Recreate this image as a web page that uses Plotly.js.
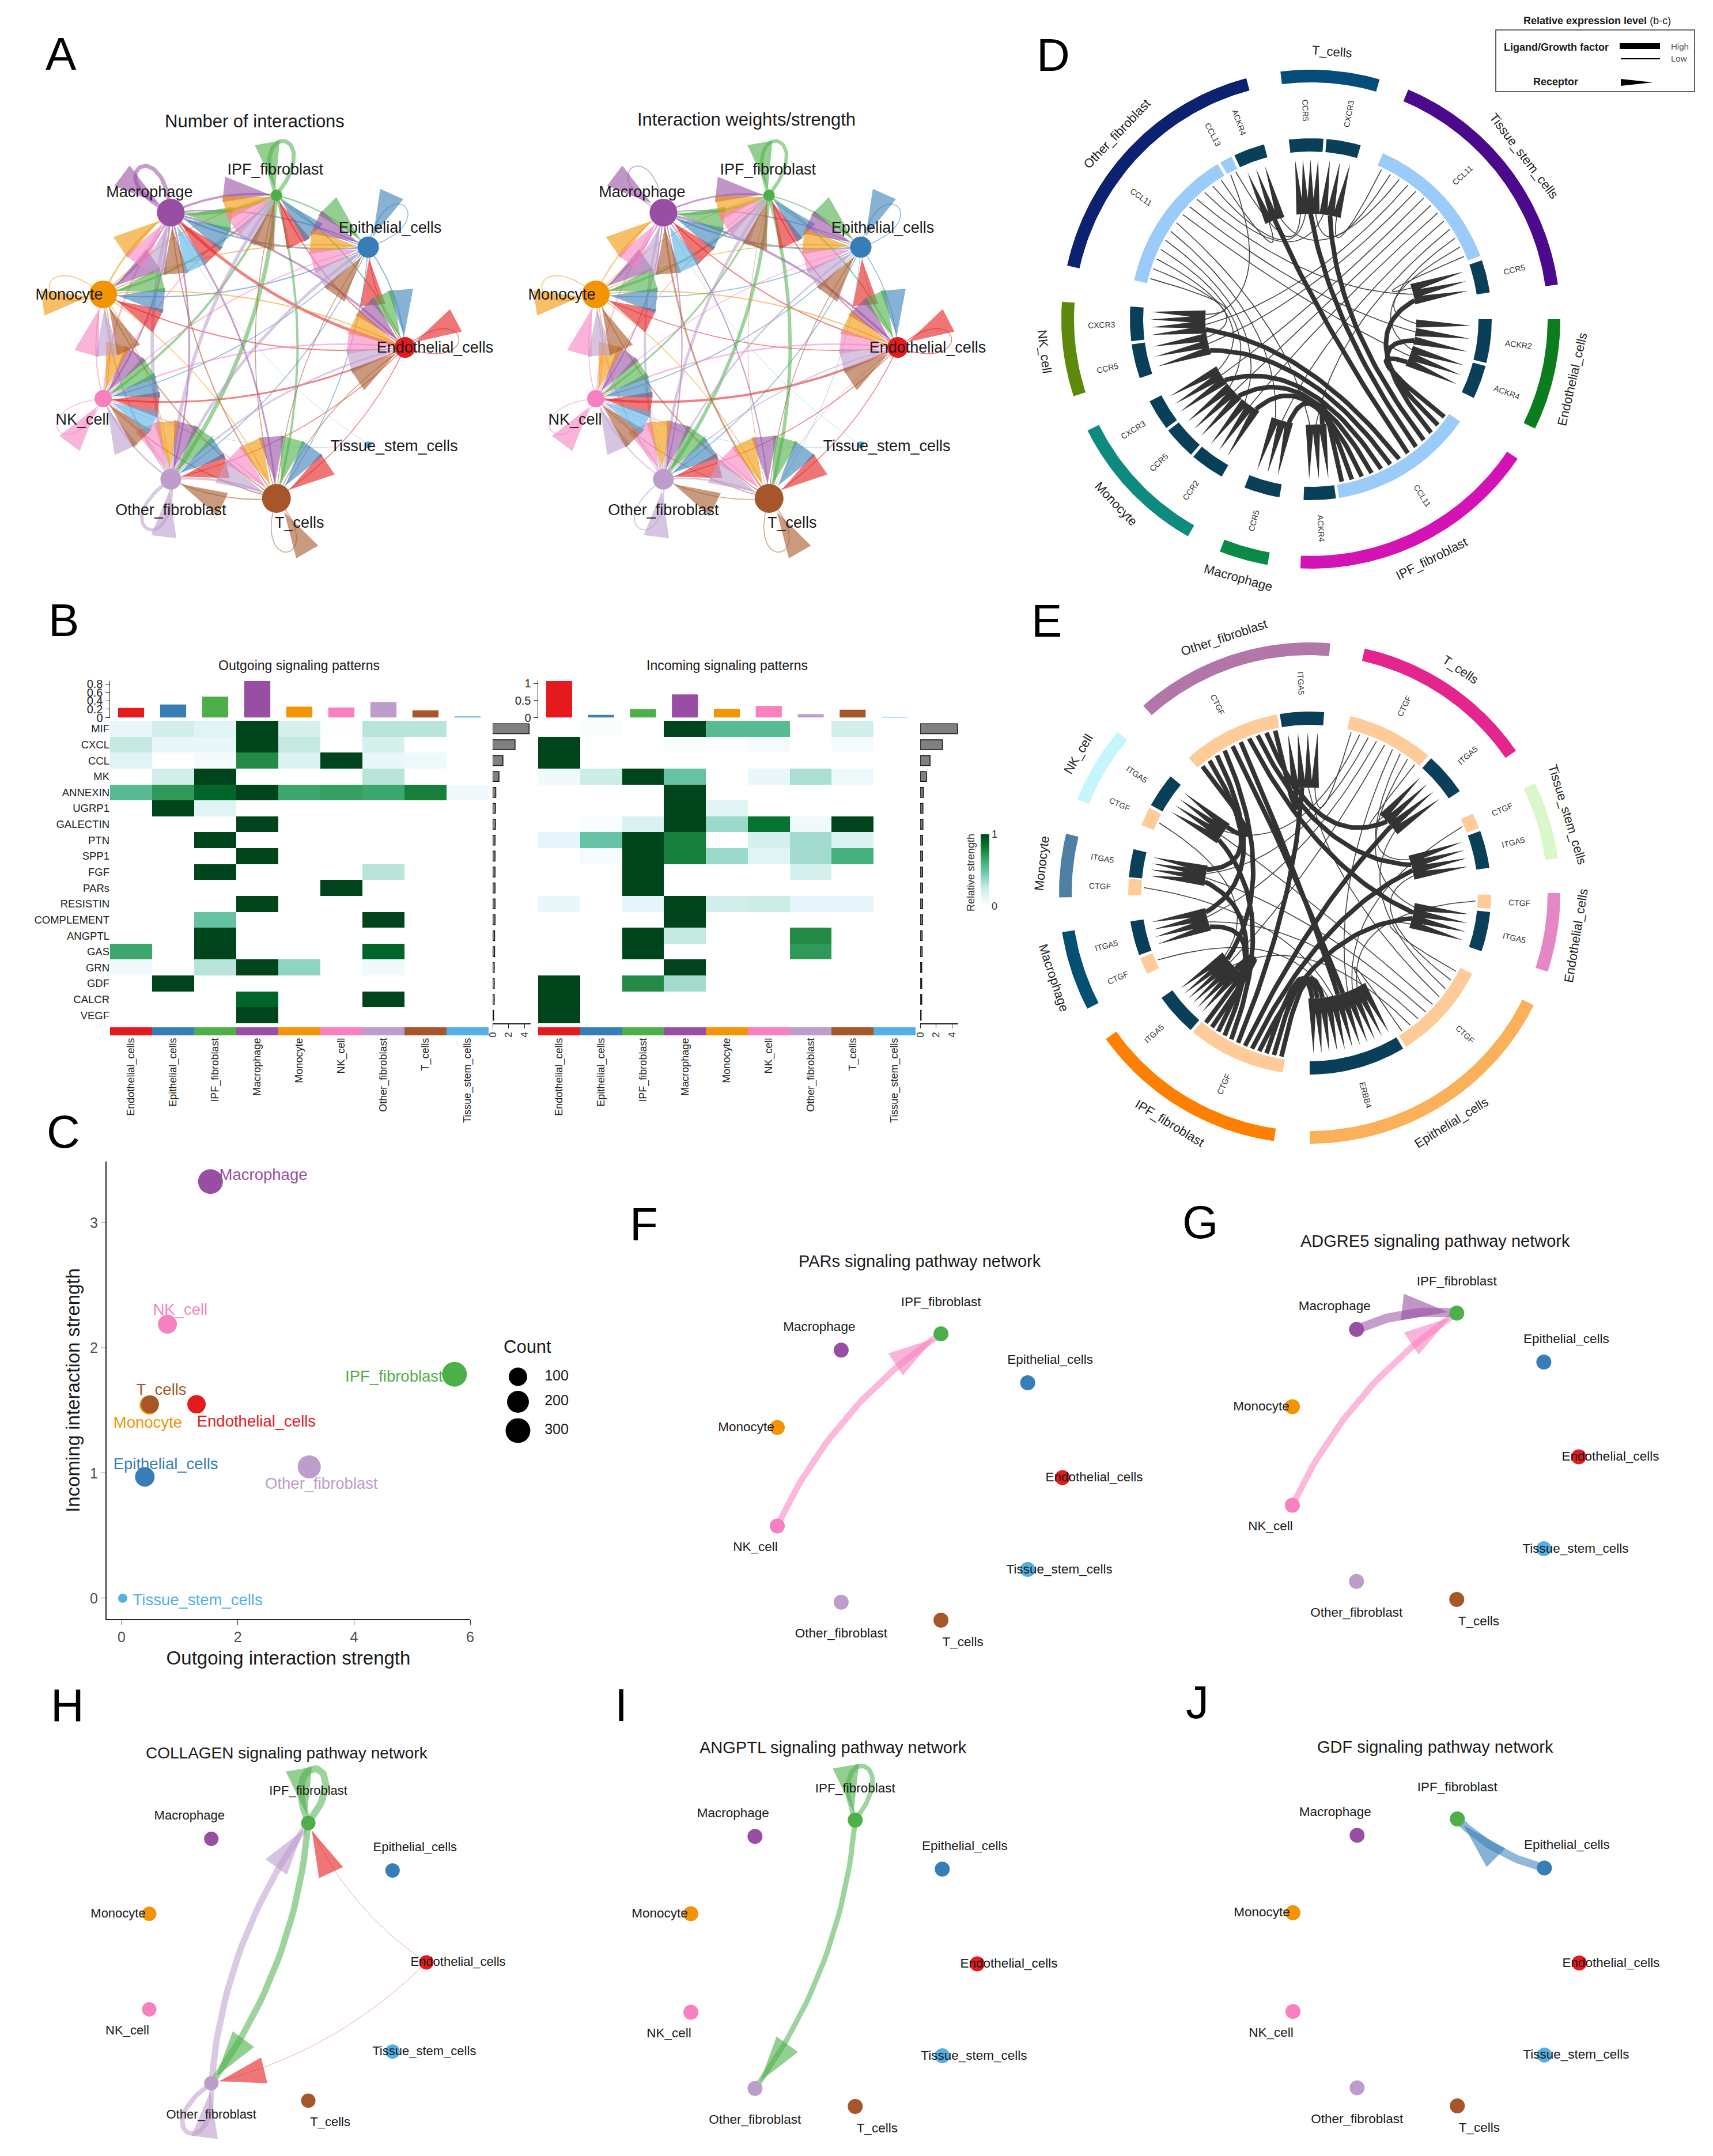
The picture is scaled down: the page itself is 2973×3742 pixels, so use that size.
<!DOCTYPE html>
<html><head><meta charset="utf-8">
<script src="https://cdn.plot.ly/plotly-3.0.1.min.js"></script>
<style>html,body{margin:0;padding:0;background:#fff}</style></head>
<body><div id="chart" style="width:2973px;height:3742px"></div>
<script>
const W=2973,H=3742,FONT='Liberation Sans, Arial, sans-serif';
const cellTypes=['Endothelial_cells','Epithelial_cells','IPF_fibroblast','Macrophage','Monocyte','NK_cell','Other_fibroblast','T_cells','Tissue_stem_cells'];
const cellColors=['#E41A1C','#377EB8','#4DAF4A','#984EA3','#F29403','#F781BF','#BC9DCC','#A65628','#54B0E4'];
const pathways=['MIF','CXCL','CCL','MK','ANNEXIN','UGRP1','GALECTIN','PTN','SPP1','FGF','PARs','RESISTIN','COMPLEMENT','ANGPTL','GAS','GRN','GDF','CALCR','VEGF'];
const outgoing=[
[.1,.22,.15,1,.2,.02,.3,.3,0],[.27,.1,.1,1,.27,0,.2,0,0],[.15,0,.05,.75,.17,1,.1,.08,0],[0,.22,1,0,0,0,.3,0,0],
[.55,.7,.9,1,.65,.68,.65,.8,.07],[0,1,.15,0,0,0,0,0,0],[0,0,0,1,0,0,0,0,0],[0,0,1,0,0,0,0,0,0],[0,0,0,1,0,0,0,0,0],
[0,0,1,0,0,0,.3,0,0],[0,0,0,0,0,1,0,0,0],[0,0,0,1,0,0,0,0,0],[0,0,.5,0,0,0,1,0,0],[0,0,1,0,0,0,0,0,0],
[.65,0,1,0,0,0,.9,0,0],[.07,0,.3,1,.4,0,.07,0,0],[0,1,0,0,0,0,0,0,0],[0,0,0,.9,0,0,1,0,0],[0,0,0,1,0,0,0,0,0]];
const incoming=[
[0,.03,0,1,.55,.55,0,.22,0],[1,0,0,.03,.02,.05,0,.05,0],[1,0,0,0,0,0,0,0,0],[.07,.25,1,.5,0,.1,.33,.08,0],
[0,0,0,1,0,0,0,0,0],[0,0,0,1,.15,0,0,0,0],[0,.04,.18,1,.37,.85,.07,1,0],[.12,.5,1,.8,0,.2,.35,.17,0],[0,.05,1,.8,.37,.15,.35,.6,0],
[0,0,1,0,0,0,.2,0,0],[0,0,1,0,0,0,0,0,0],[.1,0,.12,1,.22,.25,.12,.12,0],[0,0,0,1,0,0,0,0,0],[0,0,1,.27,0,0,.75,0,0],
[0,0,1,0,0,0,.7,0,0],[0,0,0,1,0,0,0,0,0],[1,0,.75,.35,0,0,0,0,0],[1,0,0,0,0,0,0,0,0],[1,0,0,0,0,0,0,0,0]];
const outgoingTop=[.23,.31,.5,.87,.26,.24,.37,.17,.03];
const incomingTop=[1.07,.08,.25,.68,.25,.34,.1,.23,.02];
const outgoingRight=[4.6,2.83,1.3,.8,.4,.35,.35,.3,.3,.3,.3,.3,.3,.25,.25,.2,.2,.2,.12];
const incomingRight=[4.7,2.8,1.25,.8,.4,.35,.35,.3,.3,.3,.3,.3,.3,.25,.25,.2,.2,.2,.12];
const outTicks=[0,.2,.4,.6,.8], inTicks=[0,.5,1];
const BuGn=[[0,'#FFFFFF'],[.125,'#E5F5F9'],[.25,'#CCECE6'],[.375,'#99D8C9'],[.5,'#66C2A4'],[.625,'#41AE76'],[.75,'#238B45'],[.875,'#006D2C'],[1,'#00441B']];
// scatter C
const outStrength=[1.29,.4,5.73,1.53,.475,.79,3.23,.49,.02];
const inStrength=[1.55,.97,1.79,3.33,1.545,2.19,1.05,1.55,0];
const dotSize=[32,34,43,43,33,33,40,31,16];
const labelX=[2.32,.76,4.69,2.44,.45,1.01,3.44,.685,1.31];
const labelY=[1.405,1.065,1.765,3.375,1.395,2.295,.905,1.655,-.022];
const countLabels=['100','200','300'], countSizes=[32,38,43], countY=[1.77,1.57,1.34];
// networks
const nodeX=[1,.878,.574,.224,0,0,.224,.574,.878];
const nodeY=[.502,.171,0,.057,.327,.671,.937,1,.823];
const loopDir=[-10,-48,-82,-125,190,145,115,78,35];
const nodeSizeA=[36,37,20,48,48,30,36,50,12];
const lblDxA=[52,38,-2,-37,-59,-36,0,40,45], lblDyA=[2,-32,-43,-34,2,38,55,44,4];
const lblDxF=[55,39,0,-38,-54,-38,0,38,55], lblDyF=[1,-39,-54,-39,1,38,56,39,1];
const weightCount=[
[1.5,1.5,2,5,2,3,1.5,1.5,0],[2,1.5,2,3,2,1.5,1.5,1.5,0],[2.5,2.5,7,5,4,4,7,4,0],[3.5,2.5,4,7,3,3,3,3,0],
[2,2,2,3,1.5,2,1.5,1.5,0],[2.5,2,2,3,2,1.5,2,2,0],[3,5,6,6,3,3,6,4,0],[1.5,1.5,1.5,2,2,2,2,1.5,0],[0,0,0,1,0,1,0,0,0]];
const weightStrength=[
[1.5,1,2,2,1.5,4,1.5,1.5,0],[1.5,1.5,1.5,3,1.5,1.5,1.5,1,0],[2.5,2,6,4,4,3,6,6,0],[4,2,3,1.5,2,2,2,2,0],
[2,1.5,1.5,2,1.5,1.5,1,1.5,0],[2.5,1.5,1.5,2,1.5,1.5,2,1.5,0],[2,3,5,4,2,2,2,3,0],[1,1.5,1,3,2,1.5,1.5,1.5,0],[0,0,0,1,0,1,0,0,0]];
const edgesF=[[5,2,11]];
const edgesG=[[5,2,11],[3,2,16]];
const edgesH=[[6,2,11],[2,6,11],[0,2,1],[0,6,1],[2,2,12],[6,6,8]];
const edgesI=[[2,6,9],[2,2,8]];
const edgesJ=[[1,2,14]];
// circos D
const dCells=['T_cells','Tissue_stem_cells','Endothelial_cells','IPF_fibroblast','Macrophage','Monocyte','NK_cell','Other_fibroblast'];
const dStart=[-7,23,90,124,190,209.5,252,282.4];
const dEnd=[16,82,116,182.4,201.4,243.5,274,345];
const dColors=['#054C7A','#4B0A8C','#0B7D1E','#D313B4','#0A8A47','#0E8A7E','#5E8A0C','#0C2170'];
const dGenes=['CCR5','CXCR3','CCL11','CCR5','ACKR2','ACKR4','CCL11','ACKR4','CCR5','CCR2','CCR5','CXCR3','CCR5','CXCR3','CCL11','CCL13','ACKR4'];
const dGeneStart=[-7,5,23.5,71,90,105,124.4,172,190,209.5,221.5,233,251,263,282.4,330,335];
const dGeneEnd=[4,16,69.5,81.5,104,115.8,171,182.3,201.5,220.5,232,243,262,274,329,334,345];
const dLigands=[14,2,6];     // Other, Tissue, IPF CCL11
const dThick=[0,0,1];
// circos E
const eCells=['T_cells','Tissue_stem_cells','Endothelial_cells','Epithelial_cells','IPF_fibroblast','Macrophage','Monocyte','NK_cell','Other_fibroblast'];
const eStart=[12.7,64,90,116.6,188.2,242.5,269,292,318.4];
const eEnd=[55.4,82,108.3,180,234.4,261,283.7,310,364.7];
const eColors=['#E5258E','#D9F7C9','#E587C5','#FBB05A','#FF7F00','#044F72','#4F7FA3','#C6F5FD','#B276A8'];
const eGenes=['CTGF','ITGA5','CTGF','ITGA5','CTGF','ITGA5','CTGF','ERBB4','CTGF','ITGA5','CTGF','ITGA5','CTGF','ITGA5','CTGF','ITGA5','CTGF','ITGA5'];
const eGeneStart=[12.9,42,64,70,90.5,96,116.4,149,188.5,221,243.5,250,269.3,275,292,299,318.2,350.5];
const eGeneEnd=[40.8,55.8,69,82,95,108.7,148,180,220,234.7,249,261,274.5,284,298,310,349.6,364.6];
const eLigands=[0,6,8,16];
const eThick=[0,0,1,1];
const eExtraLinks=[[2,7,0],[4,7,0],[10,7,0],[12,7,0],[14,9,0],[8,7,1],[8,7,1],[16,7,1],[8,9,1]];
const DARK='#0A3F5A', LIGHT='#9BCBF8', EPEACH='#FFCC99', LINK='#333333';

const traces=[],annotations=[],shapes=[];
const layout={width:W,height:H,margin:{l:0,r:0,t:0,b:0},paper_bgcolor:'#fff',plot_bgcolor:'rgba(0,0,0,0)',showlegend:false,font:{family:FONT,color:'#1a1a1a'},annotations,shapes};
let aid=1;
function addAxes(px0,px1,py0,py1,xr,yr,xo,yo){
  aid++;const a='x'+aid,b='y'+aid;
  layout['xaxis'+aid]=Object.assign({domain:[px0/W,px1/W],range:xr,anchor:b,visible:false,showgrid:false,zeroline:false,fixedrange:true},xo||{});
  layout['yaxis'+aid]=Object.assign({domain:[1-py1/H,1-py0/H],range:yr,anchor:a,visible:false,showgrid:false,zeroline:false,fixedrange:true},yo||{});
  return {x:a,y:b};
}
function ann(t,px,py,size,o){annotations.push(Object.assign({text:t,x:px/W,y:1-py/H,xref:'paper',yref:'paper',showarrow:false,xanchor:'center',yanchor:'middle',font:{size,family:FONT,color:'#1a1a1a'}},o||{}));}
function rgba(hex,a){const n=parseInt(hex.slice(1),16);return `rgba(${n>>16},${(n>>8)&255},${n&255},${a})`;}

// ---------- networks ----------
function network(c){
  const pad=.34,{x0,y0,w,h}=c;
  const pL=Math.max(0,x0-pad*w),pR=Math.min(W,x0+w+pad*w),pT=Math.max(0,y0-pad*h),pB=Math.min(H,y0+h+pad*h);
  const ax=addAxes(pL,pR,pT,pB,[(pL-x0)/w,(pR-x0)/w],[(pB-y0)/h,(pT-y0)/h]);
  const u=1/w,L=c.arrowLen*u,A=c.arrowHalf*u;
  const P=i=>[nodeX[i],nodeY[i]];
  const lines=[],tris=[];
  function tri(tip,dirx,diry,col){
    const tx=tip[0],ty=tip[1],bx=tx-dirx*L,by=ty-diry*L;
    tris.push({type:'scatter',mode:'lines',cliponaxis:false,hoverinfo:'skip',xaxis:ax.x,yaxis:ax.y,fill:'toself',fillcolor:rgba(col,.6),line:{width:0,color:rgba(col,0)},
      x:[tx,bx-diry*A,bx+diry*A,tx],y:[ty,by+dirx*A,by-dirx*A,ty]});
  }
  c.edges.forEach(([s,t,wd])=>{
    const col=cellColors[s],p0=P(s),p1=P(t),xs=[],ys=[];
    const rT=(c.sizes[t]/2+2)*u;
    if(s===t){
      const D=146*u,r=deg=>[Math.cos(deg*Math.PI/180),Math.sin(deg*Math.PI/180)];
      const a=loopDir[s],c1=r(a+30),c2=r(a-30),ta=r(a-18);
      const C1=[p0[0]+D*c1[0],p0[1]+D*c1[1]],C2=[p0[0]+D*c2[0],p0[1]+D*c2[1]];
      for(let i=0;i<=40;i++){const q=i/40,m=1-q;
        xs.push(m*m*m*p0[0]+3*m*m*q*C1[0]+3*m*q*q*C2[0]+q*q*q*p0[0]);
        ys.push(m*m*m*p0[1]+3*m*m*q*C1[1]+3*m*q*q*C2[1]+q*q*q*p0[1]);}
      tri([p0[0]+ta[0]*rT,p0[1]+ta[1]*rT],-ta[0],-ta[1],col);
    } else {
      const dx=p1[0]-p0[0],dy=p1[1]-p0[1];
      const C=[(p0[0]+p1[0])/2+.14*dy,(p0[1]+p1[1])/2-.14*dx];
      for(let i=0;i<=30;i++){const q=i/30,m=1-q;
        xs.push(m*m*p0[0]+2*m*q*C[0]+q*q*p1[0]);ys.push(m*m*p0[1]+2*m*q*C[1]+q*q*p1[1]);}
      if(t!==8){
        let tx=p1[0]-C[0],ty=p1[1]-C[1];const l=Math.hypot(tx,ty);tx/=l;ty/=l;
        tri([p1[0]-tx*rT,p1[1]-ty*rT],tx,ty,col);
      }
    }
    lines.push({type:'scatter',mode:'lines',cliponaxis:false,hoverinfo:'skip',xaxis:ax.x,yaxis:ax.y,x:xs,y:ys,line:{color:rgba(col,wd<=1?.4:.55),width:wd}});
  });
  traces.push(...lines,...tris);
  traces.push({type:'scatter',mode:'markers',cliponaxis:false,hoverinfo:'skip',xaxis:ax.x,yaxis:ax.y,x:nodeX,y:nodeY,marker:{size:c.sizes,color:cellColors,opacity:1,line:{width:0}}});
  traces.push({type:'scatter',mode:'text',cliponaxis:false,hoverinfo:'skip',xaxis:ax.x,yaxis:ax.y,
    x:nodeX.map((v,i)=>v+c.dx[i]*u),y:nodeY.map((v,i)=>v+c.dy[i]/h),text:cellTypes,textposition:'middle center',textfont:{size:c.font,family:FONT,color:'#1a1a1a'}});
}
function matrixEdges(m){const e=[];m.forEach((r,s)=>r.forEach((v,t)=>{if(v>0)e.push([s,t,v]);}));return e;}
const same=n=>cellTypes.map(()=>n);
network({x0:179,y0:339,w:524,h:526,edges:matrixEdges(weightCount),sizes:nodeSizeA,dx:lblDxA,dy:lblDyA,font:27,arrowLen:80,arrowHalf:22});
network({x0:1034,y0:339,w:524,h:526,edges:matrixEdges(weightStrength),sizes:nodeSizeA,dx:lblDxA,dy:lblDyA,font:27,arrowLen:80,arrowHalf:22});
network({x0:1349,y0:2315,w:495,h:497,edges:edgesF,sizes:same(26),dx:lblDxF,dy:lblDyF,font:22.5,arrowLen:80,arrowHalf:23});
network({x0:2243,y0:2279,w:497,h:497,edges:edgesG,sizes:same(26),dx:lblDxF,dy:lblDyF,font:22.5,arrowLen:80,arrowHalf:23});
network({x0:259,y0:3164,w:481,h:482,edges:edgesH,sizes:same(25),dx:lblDxF,dy:lblDyF,font:22,arrowLen:80,arrowHalf:23});
network({x0:1199,y0:3159,w:497,h:497,edges:edgesI,sizes:same(26),dx:lblDxF,dy:lblDyF,font:22.5,arrowLen:80,arrowHalf:23});
network({x0:2244,y0:3157,w:497,h:498,edges:edgesJ,sizes:same(26),dx:lblDxF,dy:lblDyF,font:22.5,arrowLen:80,arrowHalf:23});
[['Number of interactions',442,211,31],['Interaction weights/strength',1295,208,31],['PARs signaling pathway network',1596,2189,29],['ADGRE5 signaling pathway network',2491,2154,29],['COLLAGEN signaling pathway network',498,3042,28],['ANGPTL signaling pathway network',1446,3033,29],['GDF signaling pathway network',2491,3032,29]]
 .forEach(t=>ann(t[0],t[1],t[2],t[3]));

// ---------- heatmaps ----------
function heat(x0,x1,z,top,topTicks,topMax,right,rx0,withLabels,scale){
  const ax=addAxes(x0,x1,1251,1776,[-.5,8.5],[18.5,-.5],{},withLabels?{visible:true,showline:false,ticks:'',tickmode:'array',tickvals:pathways.map((_,i)=>i),ticktext:pathways,tickfont:{size:18.5,color:'#222'},ticklen:0}:{});
  const t={type:'heatmap',xaxis:ax.x,yaxis:ax.y,x:cellTypes.map((_,i)=>i),y:pathways.map((_,i)=>i),z,colorscale:BuGn,zmin:0,zmax:1,showscale:false,hoverinfo:'skip'};
  if(scale){t.showscale=true;t.colorbar={x:1702/W,xanchor:'left',xref:'paper',y:1-1573/H,yanchor:'bottom',yref:'paper',len:125,lenmode:'pixels',thickness:15,thicknessmode:'pixels',tickvals:[0,1],ticks:'',tickfont:{size:18,color:'#333'},outlinewidth:0,ypad:0,xpad:0};}
  traces.push(t);
  const at=addAxes(x0,x1,1182,1245.5,[-.5,8.5],[0,topMax],{},{visible:true,showline:true,linecolor:'#222',linewidth:1.5,ticks:'outside',ticklen:7,tickcolor:'#222',tickmode:'array',tickvals:topTicks,ticktext:topTicks.map(String),tickfont:{size:20,color:'#222'}});
  traces.push({type:'bar',xaxis:at.x,yaxis:at.y,x:cellTypes.map((_,i)=>i),y:top,marker:{color:cellColors,line:{width:0}},width:.62,hoverinfo:'skip'});
  const ar=addAxes(rx0,rx0+66,1251,1776,[0,4.8],[18.5,-.5],{visible:true,showline:true,linecolor:'#222',linewidth:1.5,ticks:'outside',ticklen:7,tickcolor:'#222',tickmode:'array',tickvals:[0,2,4],ticktext:['0','2','4'],tickangle:-90,tickfont:{size:17,color:'#222'}},{});
  traces.push({type:'bar',orientation:'h',xaxis:ar.x,yaxis:ar.y,y:pathways.map((_,i)=>i),x:right,marker:{color:'#808080',line:{color:'#111',width:1.5}},width:.62,hoverinfo:'skip'});
  const as=addAxes(x0,x1,1783,1797,[-.5,8.5],[-.5,.5],{visible:true,showline:false,ticks:'',ticklen:0,tickmode:'array',tickvals:cellTypes.map((_,i)=>i),ticktext:cellTypes,tickangle:-90,tickfont:{size:18,color:'#222'}},{});
  traces.push({type:'heatmap',xaxis:as.x,yaxis:as.y,x:cellTypes.map((_,i)=>i),y:[0],z:[cellTypes.map((_,i)=>i)],zmin:0,zmax:8,colorscale:cellColors.map((c,i)=>[i/8,c]),showscale:false,hoverinfo:'skip'});
}
heat(191,848,outgoing,outgoingTop,outTicks,.87,outgoingRight,855,true,false);
heat(934,1589,incoming,incomingTop,inTicks,1.07,incomingRight,1597,false,true);
ann('Outgoing signaling patterns',519,1155,23);
ann('Incoming signaling patterns',1262,1155,23);
ann('Relative strength',1685,1515,18,{textangle:-90,font:{size:18,family:FONT,color:'#333'}});

// ---------- scatter C ----------
const cAx=addAxes(185,816,2016,2810,[-.258,6],[-.166,3.49],
 {visible:true,showline:true,linecolor:'#222',linewidth:2,ticks:'outside',ticklen:8,tickcolor:'#333',tickvals:[0,2,4,6],tickmode:'array',tickfont:{size:25,color:'#4d4d4d'},title:{text:'Outgoing interaction strength',font:{size:33,color:'#1a1a1a'},standoff:12}},
 {visible:true,showline:true,linecolor:'#222',linewidth:2,ticks:'outside',ticklen:8,tickcolor:'#333',tickvals:[0,1,2,3],tickmode:'array',tickfont:{size:25,color:'#4d4d4d'},title:{text:'Incoming interaction strength',font:{size:33,color:'#1a1a1a'},standoff:8}});
traces.push({type:'scatter',mode:'text',cliponaxis:false,hoverinfo:'skip',xaxis:cAx.x,yaxis:cAx.y,x:labelX,y:labelY,text:cellTypes,textfont:{size:27.5,color:cellColors,family:FONT}});
traces.push({type:'scatter',mode:'markers',cliponaxis:false,hoverinfo:'skip',xaxis:cAx.x,yaxis:cAx.y,x:outStrength,y:inStrength,marker:{size:dotSize,color:cellColors,opacity:1,line:{width:0}}});
const legAx=addAxes(860,1050,2016,2810,[0,1],[-.166,3.49]);
traces.push({type:'scatter',mode:'markers',hoverinfo:'skip',xaxis:legAx.x,yaxis:legAx.y,x:countY.map(()=>.205),y:countY,marker:{size:countSizes,color:'#000',opacity:1,line:{width:0}}});
traces.push({type:'scatter',mode:'text',hoverinfo:'skip',xaxis:legAx.x,yaxis:legAx.y,x:countY.map(()=>.558),y:countY,text:countLabels,textfont:{size:25,color:'#1a1a1a',family:FONT}});
ann('Count',915,2337,31);

// ---------- circos ----------
const rad=d=>d*Math.PI/180;
const pol=(a,r)=>[r*Math.sin(rad(a)),r*Math.cos(rad(a))];
function circos(c){
  const ax=addAxes(c.cx-510,c.cx+510,c.cy-510,c.cy+510,[-510,510],[-510,510]);
  function arc(a0,a1,r0,r1,col){
    const xs=[],ys=[],n=Math.max(2,Math.ceil(a1-a0));
    for(let i=0;i<=n;i++){const p=pol(a0+(a1-a0)*i/n,r1);xs.push(p[0]);ys.push(p[1]);}
    for(let i=n;i>=0;i--){const p=pol(a0+(a1-a0)*i/n,r0);xs.push(p[0]);ys.push(p[1]);}
    xs.push(xs[0]);ys.push(ys[0]);
    traces.push({type:'scatter',mode:'lines',hoverinfo:'skip',cliponaxis:false,xaxis:ax.x,yaxis:ax.y,x:xs,y:ys,fill:'toself',fillcolor:col,line:{width:0,color:col}});
  }
  function lab(t,a,r,size,angle,col){annotations.push({text:t,x:pol(a,r)[0],y:pol(a,r)[1],xref:ax.x,yref:ax.y,showarrow:false,textangle:angle,xanchor:'center',yanchor:'middle',font:{size,family:FONT,color:col}});}
  c.cells.forEach((n,i)=>{
    arc(c.start[i],c.end[i],c.Ro-22,c.Ro,c.colors[i]);
    const m=(c.start[i]+c.end[i])/2,nm=((m%360)+360)%360;
    const rot=(nm<90||nm>270)?(nm>270?nm-360:nm):nm-180;
    lab(n,m,c.Ro+33,22,rot,'#222');
  });
  const isRec=i=>c.receptors.includes(i);
  c.genes.forEach((g,i)=>{
    arc(c.gStart[i],c.gEnd[i],c.Ri-23,c.Ri,isRec(i)?DARK:c.ligandColor);
    const m=(c.gStart[i]+c.gEnd[i])/2,nm=((m%360)+360)%360;
    lab(g,m,c.Ri+49,14,nm<180?nm-90:nm-270,'#333');
  });
  // links
  const links=[];
  c.receptors.forEach(r=>c.ligands.forEach((l,k)=>links.push({l,r,thick:c.thick[k]})));
  c.extra.forEach(e=>links.push({l:e[0],r:e[1],thick:e[2]}));
  const mid=i=>(c.gStart[i]+c.gEnd[i])/2;
  function assign(keyField,otherField,resField){
    [...new Set(links.map(k=>k[keyField]))].forEach(i=>{
      const sub=links.filter(k=>k[keyField]===i);
      sub.sort((p,q)=>((mid(q[otherField])-mid(i)+720)%360)-((mid(p[otherField])-mid(i)+720)%360));
      const a0=c.gStart[i],a1=c.gEnd[i];
      sub.forEach((k,j)=>{k[resField]=a0+(a1-a0)*(j+.5)/sub.length;});
    });
  }
  assign('l','r','aL');assign('r','l','aR');
  const thinX=[],thinY=[],thickX=[],thickY=[],spX=[],spY=[];
  links.forEach(k=>{
    const P0=pol(k.aL,c.Ri-27),P1=pol(k.aR,c.Rh);
    const C=[(P0[0]+P1[0])/2*.35,(P0[1]+P1[1])/2*.35];
    const X=k.thick?thickX:thinX,Y=k.thick?thickY:thinY;
    for(let i=0;i<=36;i++){const q=i/36,m=1-q;X.push(m*m*P0[0]+2*m*q*C[0]+q*q*P1[0]);Y.push(m*m*P0[1]+2*m*q*C[1]+q*q*P1[1]);}
    X.push(null);Y.push(null);
    const tip=pol(k.aR,c.Ri-36),px=Math.cos(rad(k.aR)),py=-Math.sin(rad(k.aR)),hw=7;
    spX.push(tip[0],P1[0]+px*hw,P1[0]-px*hw,tip[0],null);
    spY.push(tip[1],P1[1]+py*hw,P1[1]-py*hw,tip[1],null);
  });
  const base={type:'scatter',mode:'lines',hoverinfo:'skip',cliponaxis:false,xaxis:ax.x,yaxis:ax.y};
  traces.push(Object.assign({},base,{x:thinX,y:thinY,line:{color:'#444',width:1.6}}));
  traces.push(Object.assign({},base,{x:spX,y:spY,fill:'toself',fillcolor:LINK,line:{width:0,color:LINK}}));
  traces.push(Object.assign({},base,{x:thickX,y:thickY,line:{color:LINK,width:8}}));
}
circos({cx:2275,cy:554,Ro:433,Ri:314,Rh:183,cells:dCells,start:dStart,end:dEnd,colors:dColors,genes:dGenes,gStart:dGeneStart,gEnd:dGeneEnd,
  receptors:[0,1,3,4,5,7,8,9,10,11,12,13,16],ligands:dLigands,thick:dThick,ligandColor:LIGHT,extra:[[15,0,0],[15,13,0]]});
circos({cx:2273,cy:1550,Ro:435,Ri:315,Rh:183,cells:eCells,start:eStart,end:eEnd,colors:eColors,genes:eGenes,gStart:eGeneStart,gEnd:eGeneEnd,
  receptors:[1,3,5,7,9,11,13,15,17],ligands:eLigands,thick:eThick,ligandColor:EPEACH,extra:eExtraLinks});

// legend of D
const sx=x=>x/W, sy=y=>1-y/H;
shapes.push({type:'rect',xref:'paper',yref:'paper',x0:sx(2596),x1:sx(2941),y0:sy(52),y1:sy(159),line:{color:'#333',width:1.5}});
shapes.push({type:'rect',xref:'paper',yref:'paper',x0:sx(2811),x1:sx(2881),y0:sy(75),y1:sy(85),fillcolor:'#000',line:{width:0}});
shapes.push({type:'rect',xref:'paper',yref:'paper',x0:sx(2813),x1:sx(2881),y0:sy(101),y1:sy(103),fillcolor:'#000',line:{width:0}});
shapes.push({type:'path',xref:'paper',yref:'paper',path:`M ${sx(2813)} ${sy(137)} L ${sx(2869)} ${sy(143)} L ${sx(2813)} ${sy(149)} Z`,fillcolor:'#000',line:{width:0}});
ann('<b>Relative expression level</b> (b-c)',2772,36,18);
ann('<b>Ligand/Growth factor</b>',2701,82,18);
ann('<b>Receptor</b>',2700,142,18);
ann('High',2915,80,15,{font:{size:15,family:FONT,color:'#555'}});
ann('Low',2914,102,15,{font:{size:15,family:FONT,color:'#555'}});

// panel letters
[['A',106,94],['B',110,1076],['C',110,1964],['D',1828,95],['E',1816,1078],['F',1117,2124],['G',2083,2121],['H',117,2959],['I',1078,2959],['J',2078,2954]]
 .forEach(t=>ann(t[0],t[1],t[2],80,{font:{size:80,family:FONT,color:'#000'}}));

Plotly.newPlot('chart',traces,layout,{displayModeBar:false,staticPlot:true});
</script></body></html>
